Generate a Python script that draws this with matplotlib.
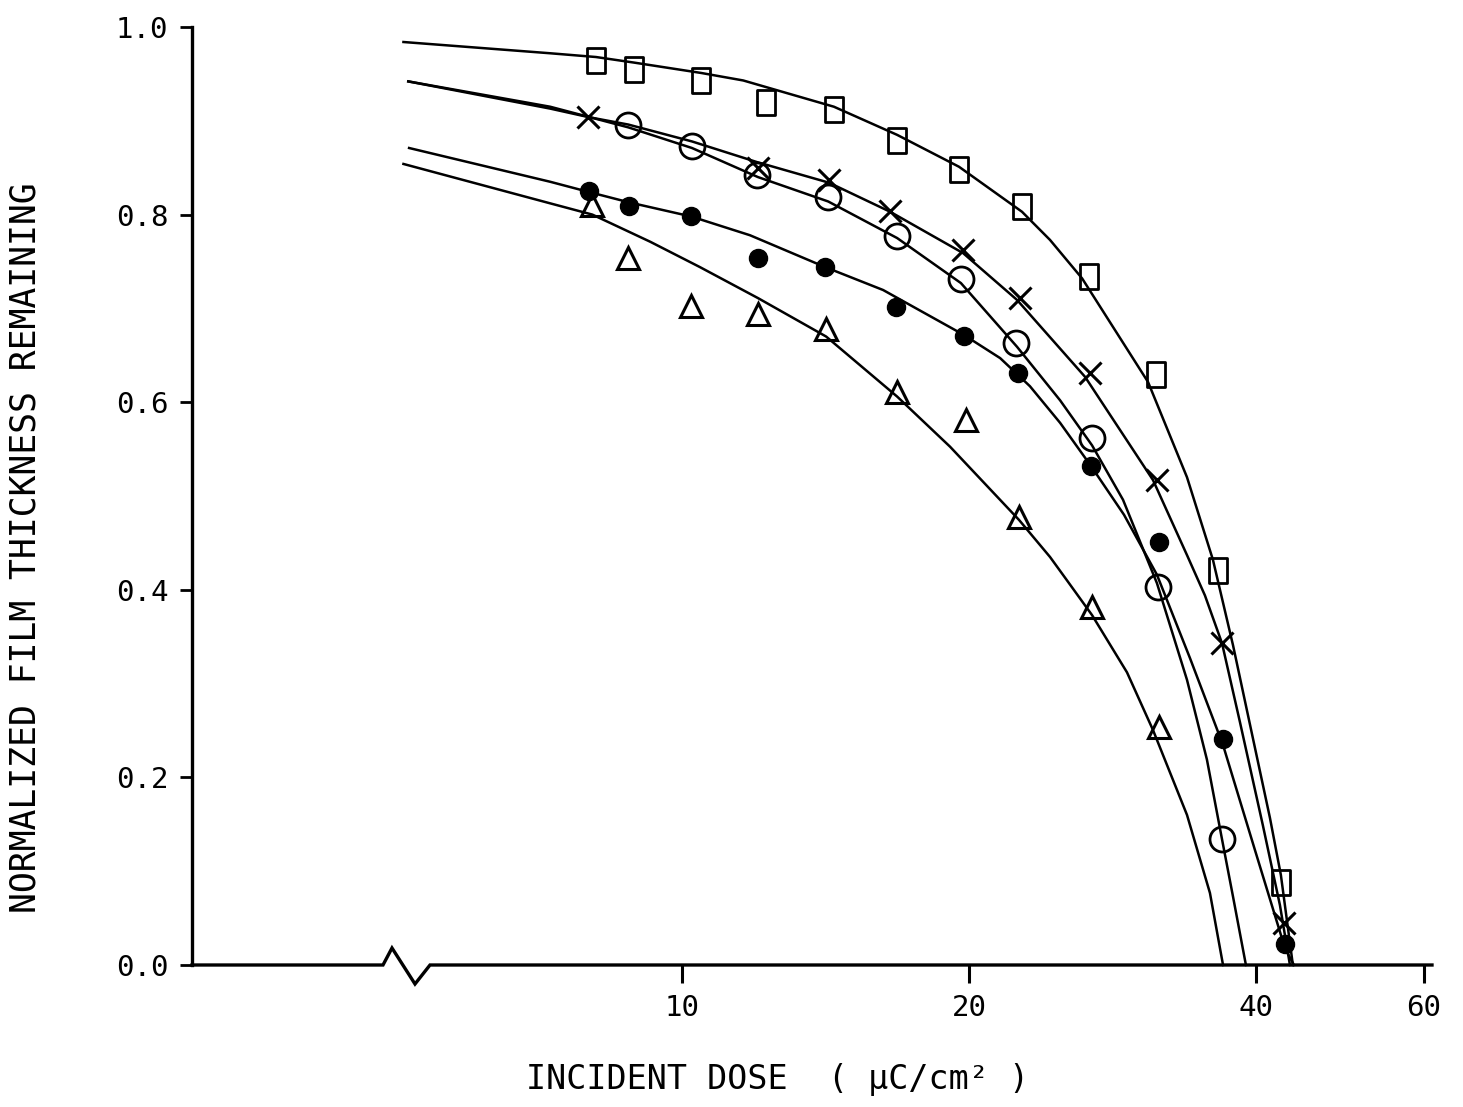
import matplotlib
matplotlib.use("Agg")
import matplotlib.pyplot as plt
from matplotlib.lines import Line2D
from matplotlib.path import Path

# ---------------- data ----------------
# measured points
sq_dose = [8.12, 8.91, 10.47, 12.25, 14.43, 16.81, 19.52, 22.73, 26.72, 31.42, 36.49, 42.48]
sq_val = [0.965, 0.955, 0.944, 0.920, 0.913, 0.880, 0.849, 0.809, 0.735, 0.630, 0.421, 0.088]

x_dose = [7.97, 12.01, 14.26, 16.53, 19.71, 22.62, 26.78, 31.49, 36.85, 42.79]
x_val = [0.904, 0.850, 0.837, 0.804, 0.762, 0.711, 0.631, 0.517, 0.343, 0.045]

oc_dose = [8.78, 10.24, 11.98, 14.23, 16.81, 19.61, 22.41, 26.92, 31.57, 36.85]
oc_val = [0.896, 0.873, 0.842, 0.819, 0.777, 0.731, 0.663, 0.5615, 0.403, 0.134]

fc_dose = [7.99, 8.80, 10.22, 12.01, 14.13, 16.77, 19.76, 22.51, 26.85, 31.64, 36.94, 42.90]
fc_val = [0.8255, 0.8095, 0.799, 0.754, 0.744, 0.702, 0.6706, 0.631, 0.532, 0.451, 0.2406, 0.022]

tr_dose = [8.05, 8.78, 10.22, 12.01, 14.16, 16.81, 19.85, 22.57, 26.92, 31.64]
tr_val = [0.810, 0.754, 0.7026, 0.694, 0.678, 0.611, 0.581, 0.478, 0.382, 0.254]

# fitted curves
sq_curve_dose = [5.10, 7.27, 8.12, 8.91, 10.47, 11.59, 14.43, 16.81, 19.52, 22.73, 24.32, 26.28,
                 30.82, 33.86, 36.05, 37.84, 39.70, 41.37, 42.48, 43.73]
sq_curve_val = [0.984, 0.972, 0.968, 0.962, 0.951, 0.943, 0.915, 0.885, 0.851, 0.803, 0.773, 0.732,
                0.6215, 0.520, 0.432, 0.341, 0.242, 0.157, 0.096, 0.0]

x_curve_dose = [5.16, 7.27, 7.97, 8.78, 10.24, 11.98, 14.26, 16.53, 19.71, 22.46, 26.47, 31.19,
                33.86, 35.36, 36.85, 38.48, 40.67, 42.38, 43.42]
x_curve_val = [0.942, 0.913, 0.904, 0.896, 0.878, 0.856, 0.834, 0.803, 0.759, 0.709, 0.627, 0.517,
               0.437, 0.394, 0.343, 0.259, 0.149, 0.064, 0.0]

oc_curve_dose = [5.16, 7.27, 8.78, 10.24, 12.01, 14.23, 16.81, 19.61, 22.46, 24.92, 26.92, 29.01,
                 31.49, 33.86, 35.53, 36.85, 37.84, 39.04]
oc_curve_val = [0.942, 0.915, 0.893, 0.871, 0.840, 0.814, 0.775, 0.727, 0.659, 0.602, 0.554, 0.496,
                0.407, 0.304, 0.219, 0.134, 0.073, 0.0]

fc_curve_dose = [5.17, 7.27, 7.99, 8.80, 10.22, 11.78, 14.13, 16.25, 19.76, 21.56, 23.17, 24.92,
                 26.85, 29.08, 31.49, 34.11, 36.94, 39.90, 42.90, 43.84]
fc_curve_val = [0.871, 0.835, 0.824, 0.813, 0.798, 0.778, 0.744, 0.7196, 0.6716, 0.647, 0.617, 0.578,
                0.532, 0.480, 0.416, 0.327, 0.2345, 0.1226, 0.018, 0.0]

tr_curve_dose = [5.10, 7.27, 8.05, 9.26, 10.44, 12.01, 14.16, 16.81, 19.10, 22.57, 24.32, 25.34,
                 26.92, 29.29, 31.19, 33.86, 35.79, 36.94]
tr_curve_val = [0.854, 0.812, 0.800, 0.771, 0.744, 0.711, 0.670, 0.606, 0.5526, 0.4744, 0.435, 0.410,
                0.373, 0.312, 0.2505, 0.160, 0.0768, 0.0]

x_ticks = [10, 20, 40, 60]
x_ticklabels = ["10", "20", "40", "60"]
y_ticks = [0.0, 0.2, 0.4, 0.6, 0.8, 1.0]
y_ticklabels = ["0.0", "0.2", "0.4", "0.6", "0.8", "1.0"]

# ---------------- figure ----------------
W, H = 1463, 1107
fig = plt.figure(figsize=(W / 100, H / 100), dpi=100)
L, R, B, T = 192, 1432, 965, 27
ax = fig.add_axes([L / W, 1 - B / H, (R - L) / W, (B - T) / H])

FONT = "DejaVu Sans Mono"
lw_curve = 1.8

for cd, cv in [(sq_curve_dose, sq_curve_val), (x_curve_dose, x_curve_val),
               (oc_curve_dose, oc_curve_val), (fc_curve_dose, fc_curve_val),
               (tr_curve_dose, tr_curve_val)]:
    ax.plot(cd, cv, color="black", lw=lw_curve, solid_joinstyle="round", zorder=2, clip_on=False)

rect = Path([(-0.7, -1), (0.7, -1), (0.7, 1), (-0.7, 1), (-0.7, -1)],
            [Path.MOVETO, Path.LINETO, Path.LINETO, Path.LINETO, Path.CLOSEPOLY])

ax.plot(sq_dose, sq_val, linestyle="none", marker=rect, markersize=18,
        markerfacecolor="none", markeredgecolor="black", markeredgewidth=2.0, zorder=3, clip_on=False)
ax.plot(x_dose, x_val, linestyle="none", marker="x", markersize=16,
        markeredgecolor="black", markeredgewidth=2.2, zorder=3, clip_on=False)
ax.plot(oc_dose, oc_val, linestyle="none", marker="o", markersize=18,
        markerfacecolor="none", markeredgecolor="black", markeredgewidth=2.0, zorder=3, clip_on=False)
ax.plot(fc_dose, fc_val, linestyle="none", marker="o", markersize=13,
        markerfacecolor="black", markeredgecolor="black", zorder=3, clip_on=False)
ax.plot(tr_dose, tr_val, linestyle="none", marker="^", markersize=16,
        markerfacecolor="none", markeredgecolor="black", markeredgewidth=2.2, zorder=3, clip_on=False)

ax.set_xscale("log")
ax.set_xlim(3.06, 61.2)
ax.set_ylim(0, 1.0)

ax.set_xticks(x_ticks)
ax.set_xticklabels(x_ticklabels)
ax.xaxis.set_minor_locator(matplotlib.ticker.NullLocator())
ax.set_yticks(y_ticks)
ax.set_yticklabels(y_ticklabels)

for lab in ax.get_xticklabels() + ax.get_yticklabels():
    lab.set_fontfamily(FONT)
    lab.set_fontsize(21)

ax.tick_params(axis="x", direction="out", length=13, width=2.2, pad=8)
ax.tick_params(axis="y", direction="out", length=9, width=2.0, pad=8)

for s in ["top", "right", "bottom"]:
    ax.spines[s].set_visible(False)
ax.spines["left"].set_linewidth(2.4)

# x axis line with the break symbol (axes coordinates)
xa = lambda p: (p - L) / (R - L)
ya = lambda q: (B - q) / (B - T)
brk_x = [xa(192), xa(383), xa(392), xa(415), xa(430), xa(1432)]
brk_y = [ya(965), ya(965), ya(948), ya(984), ya(965), ya(965)]
ax.add_line(Line2D(brk_x, brk_y, transform=ax.transAxes, color="black", lw=2.4,
                   clip_on=False, solid_joinstyle="miter", zorder=4))

ax.set_xlabel("INCIDENT DOSE  ( \u03bcC/cm\u00b2 )", fontfamily=FONT, fontsize=24, labelpad=40)
ax.set_ylabel("NORMALIZED FILM THICKNESS REMAINING", fontfamily=FONT, fontsize=25)
ax.yaxis.set_label_coords((26 - L) / (R - L), ya(548))
ax.xaxis.set_label_coords(xa(778), ya(1080))
ax.xaxis.label.set_verticalalignment("center")
ax.yaxis.label.set_verticalalignment("center")

fig.savefig("out.png", dpi=100, facecolor="white")
